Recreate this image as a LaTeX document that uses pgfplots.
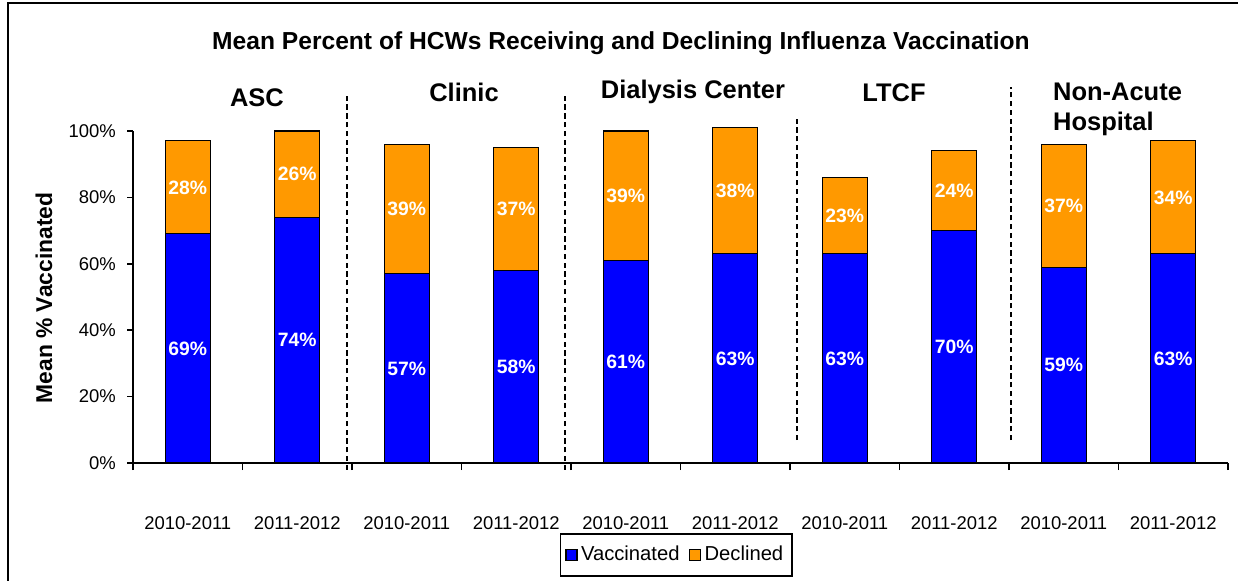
\documentclass[border=0pt]{standalone}
\usepackage{fontspec}
\setmainfont{Liberation Sans}
\usepackage{pgfplots}
\usepackage{pgfplotstable}
\pgfplotsset{compat=1.18}
\definecolor{vblue}{RGB}{0,0,255}
\definecolor{dorange}{RGB}{255,153,0}
\pgfplotstableread{
x vac dec
0 69 28
1 74 26
2 57 39
3 58 37
4 61 39
5 63 38
6 63 23
7 70 24
8 59 37
9 63 34
}\datatable
\begin{document}
\begin{tikzpicture}
\useasboundingbox (0,0) rectangle (24.76cm,11.6cm);
\draw[line width=1.1pt] (0.16cm,-1cm) -- (0.16cm,11.54cm) -- (25cm,11.54cm);
\node[font=\fontsize{14}{16}\selectfont\bfseries] at (12.42cm,10.74cm) {Mean Percent of HCWs Receiving and Declining Influenza Vaccination};
\begin{axis}[
  at={(2.66cm,2.34cm)}, anchor=south west,
  scale only axis, width=21.9cm, height=6.64cm,
  xmin=-0.5, xmax=9.5, ymin=0, ymax=100,
  clip=false,
  axis x line*=bottom, axis y line*=left,
  axis line style={line width=0.8pt, -},
  xtick={0,...,9},
  xticklabels={2010-2011,2011-2012,2010-2011,2011-2012,2010-2011,2011-2012,2010-2011,2011-2012,2010-2011,2011-2012},
  major x tick style={draw=none},
  minor xtick={-0.5,0.5,...,9.5},
  minor tick length=0.14cm,
  major tick length=0.12cm,
  tick align=outside,
  tick style={black, line width=0.8pt},
  ytick={0,20,40,60,80,100},
  yticklabel={\pgfmathprintnumber{\tick}\%},
  /pgf/number format/assume math mode=true,
  tick label style={font=\fontsize{10.5}{12}\selectfont},
  xticklabel style={yshift=-0.82cm},
  yticklabel style={xshift=-0.1cm},
  ylabel={Mean \% Vaccinated},
  every axis y label/.style={at={(rel axis cs:0,0.497)}, xshift=-1.78cm, rotate=90, anchor=center, font=\fontsize{13}{15}\selectfont\bfseries},
  legend style={at={(0.496,-0.277)}, anchor=center, legend columns=2, draw=black, line width=0.8pt, inner xsep=3pt, inner ysep=5pt, font=\fontsize{11.5}{13}\selectfont, /tikz/every even column/.append style={column sep=0.12cm}},
  every node near coord/.append style={anchor=center, text=white, font=\fontsize{11}{13}\selectfont\bfseries},
]
\addplot[ybar, bar width=0.9cm, bar shift=0pt, fill=dorange, draw=black, line width=0.6pt, forget plot]
  table[x=x, y expr=\thisrow{vac}+\thisrow{dec}] {\datatable};
\addplot[ybar, bar width=0.9cm, bar shift=0pt, fill=vblue, draw=black, line width=0.6pt, forget plot]
  table[x=x, y=vac] {\datatable};
\addplot[draw=none, mark=none, forget plot, point meta=explicit,
  nodes near coords={\pgfmathprintnumber{\pgfplotspointmeta}\%}]
  table[x=x, y expr=\thisrow{vac}/2, meta=vac] {\datatable};
\addplot[draw=none, mark=none, forget plot, point meta=explicit,
  nodes near coords={\pgfmathprintnumber{\pgfplotspointmeta}\%}]
  table[x=x, y expr=\thisrow{vac}+\thisrow{dec}/2, meta=dec] {\datatable};
\addlegendimage{legend image code/.code={\draw[fill=vblue, draw=black, line width=0.6pt] (0cm,-0.11cm) rectangle (0.22cm,0.11cm);}}
\addlegendentry{Vaccinated}
\addlegendimage{legend image code/.code={\draw[fill=dorange, draw=black, line width=0.6pt] (0cm,-0.11cm) rectangle (0.22cm,0.11cm);}}
\addlegendentry{Declined}
\draw[dashed, line width=0.8pt, dash pattern=on 3pt off 2pt] (axis cs:1.454,-2.1) -- (axis cs:1.454,111.4);
\draw[dashed, line width=0.8pt, dash pattern=on 3pt off 2pt] (axis cs:3.445,-2.1) -- (axis cs:3.445,111.4);
\draw[dashed, line width=0.8pt, dash pattern=on 3pt off 2pt] (axis cs:5.564,6.9) -- (axis cs:5.564,104.2);
\draw[dashed, line width=0.8pt, dash pattern=on 3pt off 2pt] (axis cs:7.518,6.9) -- (axis cs:7.518,113.3);
\begin{scope}[every node/.style={font=\fontsize{14.5}{17}\selectfont\bfseries}]
\node at (axis cs:0.632,109.9) {ASC};
\node at (axis cs:2.523,111.7) {Clinic};
\node at (axis cs:4.614,111.7) {Dialysis Center};
\node at (axis cs:6.45,111.4) {LTCF};
\node[anchor=west, align=left, inner sep=0pt] at (axis cs:7.90,106.4) {Non-Acute\\Hospital};
\end{scope}
\end{axis}
\end{tikzpicture}
\end{document}
